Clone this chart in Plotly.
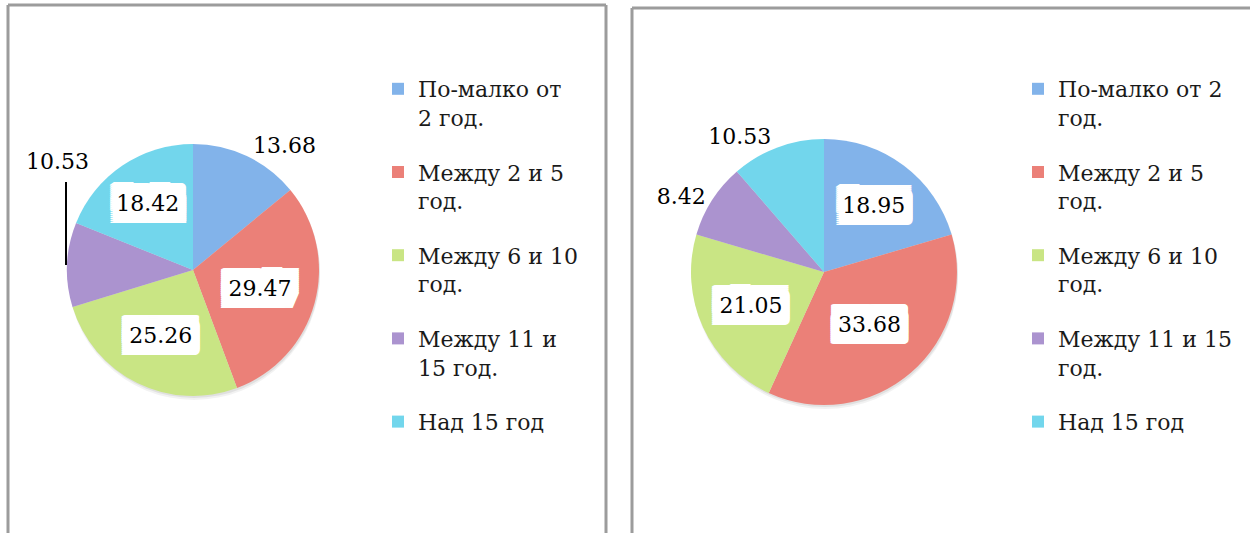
import plotly.graph_objects as go

# ---- data ----
categories = ["По-малко от 2 год.", "Между 2 и 5 год.", "Между 6 и 10 год.",
              "Между 11 и 15 год.", "Над 15 год"]
left_legend_labels = ["По-малко от<br>2 год.", "Между 2 и 5<br>год.", "Между 6 и 10<br>год.",
                      "Между 11 и<br>15 год.", "Над 15 год"]
right_legend_labels = ["По-малко от 2<br>год.", "Между 2 и 5<br>год.", "Между 6 и 10<br>год.",
                       "Между 11 и 15<br>год.", "Над 15 год"]
left_values = [13.68, 29.47, 25.26, 10.53, 18.42]
right_values = [18.95, 33.68, 21.05, 8.42, 10.53]

colors = ["#82b3ea", "#eb8078", "#c9e584", "#ab93cf", "#72d6ec"]

W, H = 1250, 533
def px(x): return x / W
def py(y): return 1 - y / H

FONT = "DejaVu Serif"
FS = 22
# white label boxes behind the inside labels
shadow = ", ".join(f"{dx}px {dy}px 0 #ffffff"
                   for dx in range(-9, 10, 1) for dy in range(-12, 13, 2))

LEFT_BOX = (67, 144, 319, 396)
RIGHT_BOX = (691, 139, 957, 405)

fig = go.Figure()

fig.add_trace(go.Pie(
    labels=categories, values=left_values, sort=False, direction="clockwise",
    rotation=0, showlegend=False,
    domain=dict(x=[px(LEFT_BOX[0]), px(LEFT_BOX[2])], y=[py(LEFT_BOX[3]), py(LEFT_BOX[1])]),
    marker=dict(colors=colors, line=dict(width=0)),
    texttemplate="%{value:.2f}",
    textposition=["outside", "inside", "inside", "none", "inside"],
    insidetextorientation="horizontal",
    insidetextfont=dict(family=FONT, size=FS, color="#000000", shadow=shadow),
    outsidetextfont=dict(family=FONT, size=FS, color="#000000"),
    hoverinfo="label+value",
))

fig.add_trace(go.Pie(
    labels=categories, values=right_values, sort=False, direction="clockwise",
    rotation=0, showlegend=False,
    domain=dict(x=[px(RIGHT_BOX[0]), px(RIGHT_BOX[2])], y=[py(RIGHT_BOX[3]), py(RIGHT_BOX[1])]),
    marker=dict(colors=colors, line=dict(width=0)),
    texttemplate="%{value:.2f}",
    textposition=["inside", "inside", "inside", "outside", "outside"],
    insidetextorientation="horizontal",
    insidetextfont=dict(family=FONT, size=FS, color="#000000", shadow=shadow),
    outsidetextfont=dict(family=FONT, size=FS, color="#000000"),
    hoverinfo="label+value",
))

# legend entries
for i, (lab, c) in enumerate(zip(left_legend_labels, colors)):
    fig.add_trace(go.Scatter(x=[None], y=[None], mode="markers", name=lab,
                             marker=dict(symbol="square", size=12, color=c),
                             legendgroup=f"l{i}", legend="legend"))
for i, (lab, c) in enumerate(zip(right_legend_labels, colors)):
    fig.add_trace(go.Scatter(x=[None], y=[None], mode="markers", name=lab,
                             marker=dict(symbol="square", size=12, color=c),
                             legendgroup=f"r{i}", legend="legend2"))

legend_common = dict(font=dict(family=FONT, size=FS, color="#1a1a1a"),
                     valign="top", tracegroupgap=23, bgcolor="rgba(0,0,0,0)",
                     xanchor="left", yanchor="top", itemclick=False, itemdoubleclick=False)

border = dict(color="#9c9c9c", width=3)
shapes = []
# soft drop shadow under each pie
for (x0, y0, x1, y1) in (LEFT_BOX, RIGHT_BOX):
    for off, a in ((4, 0.05), (2, 0.07)):
        shapes.append(dict(type="circle", xref="paper", yref="paper", layer="below",
                           x0=px(x0 + 1), x1=px(x1 + 1), y0=py(y1 + off), y1=py(y0 + off),
                           fillcolor=f"rgba(0,0,0,{a})", line=dict(width=0)))
shapes += [
    # left panel
    dict(type="line", xref="paper", yref="paper", x0=px(8), x1=px(8), y0=py(5), y1=py(560), line=border),
    dict(type="line", xref="paper", yref="paper", x0=px(8), x1=px(606), y0=py(5), y1=py(5), line=border),
    dict(type="line", xref="paper", yref="paper", x0=px(606), x1=px(606), y0=py(5), y1=py(560), line=border),
    # right panel
    dict(type="line", xref="paper", yref="paper", x0=px(632), x1=px(632), y0=py(8), y1=py(560), line=border),
    dict(type="line", xref="paper", yref="paper", x0=px(632), x1=px(1270), y0=py(8), y1=py(8), line=border),
    # leader line for the small slice label
    dict(type="line", xref="paper", yref="paper", x0=px(66), x1=px(66), y0=py(182), y1=py(265),
         line=dict(color="#000000", width=2)),
]

annotations = [
    dict(text=f"{left_values[3]:.2f}", xref="paper", yref="paper", x=px(58), y=py(161),
         showarrow=False, font=dict(family=FONT, size=FS, color="#000000"),
         xanchor="center", yanchor="middle"),
]

fig.update_layout(
    width=W, height=H, autosize=False,
    margin=dict(l=0, r=0, t=0, b=0),
    paper_bgcolor="white", plot_bgcolor="white",
    xaxis=dict(visible=False), yaxis=dict(visible=False),
    legend=dict(x=px(378), y=py(68), **legend_common),
    legend2=dict(x=px(1018), y=py(68), **legend_common),
    shapes=shapes, annotations=annotations,
)

fig.write_html("out.html", config={"displayModeBar": False},
               post_script="document.body.style.margin='0px';")
